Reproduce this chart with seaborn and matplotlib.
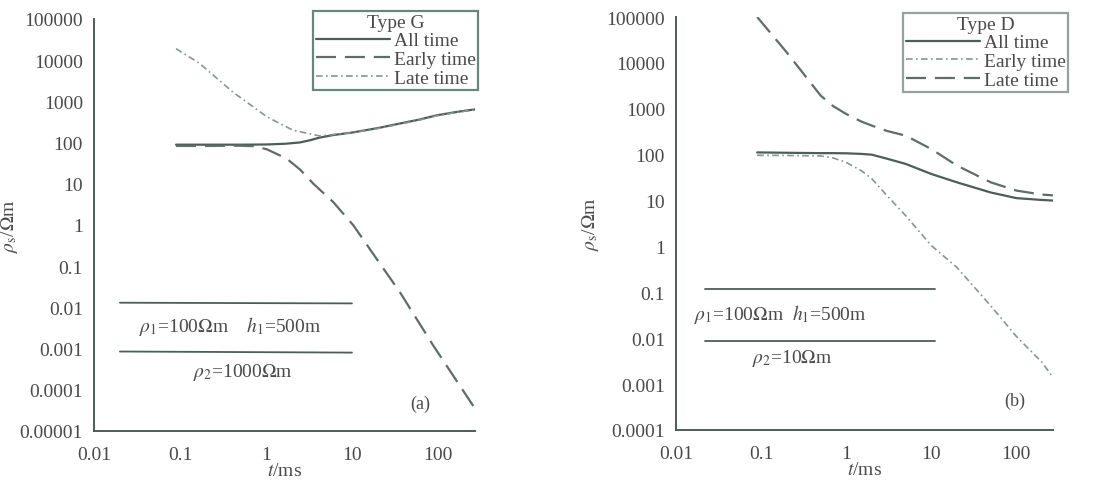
import numpy as np
import pandas as pd
import seaborn as sns
import matplotlib.pyplot as plt
from matplotlib.ticker import FixedLocator, FixedFormatter

# panel (a): Type G
t_a = [0.09, 0.2, 0.5, 1, 1.7, 2.5, 3.3, 4.2, 6, 10, 20, 36, 60, 97, 170, 270]
all_a = [89, 89, 89, 90, 94, 101, 115, 132, 152, 175, 225, 290, 360, 460, 560, 640]
t_a_early = [0.09, 0.2, 0.5, 0.71, 1.02, 1.74, 2.5, 3.55, 6.06, 10.4, 19.4, 36, 88, 270]
early_a = [83, 83, 84, 82, 69, 41, 22, 10.1, 3.6, 0.98, 0.15, 0.0237, 0.0012, 0.000035]
t_a_late = [0.09, 0.17, 0.41, 1.03, 2.06, 4.2, 10.3, 20, 36, 60, 97, 170, 270]
late_a = [19000, 8300, 1700, 420, 200, 145, 175, 220, 280, 350, 450, 550, 620]

# panel (b): Type D
t_b = [0.09, 0.2, 0.5, 0.7, 1, 1.5, 2, 3, 5, 10, 20, 50, 100, 200, 270]
all_b = [112, 110, 108, 108, 107, 104, 100, 82, 63, 38, 25, 15, 11.3, 10.3, 10]
early_b = [97, 96, 94, 85, 68, 45, 30, 13, 4.7, 1.05, 0.35, 0.051, 0.011, 0.003, 0.0014]
late_b = [100000, 17000, 1950, 1150, 770, 530, 430, 330, 260, 133, 58, 25, 16.5, 13.5, 13]

x_ticks = [0.01, 0.1, 1, 10, 100]
x_labels = ['0.01', '0.1', '1', '10', '100']
y_ticks_a = [1e-5, 1e-4, 1e-3, 1e-2, 1e-1, 1, 10, 100, 1000, 10000, 100000]
y_labels_a = ['0.00001', '0.0001', '0.001', '0.01', '0.1', '1', '10', '100', '1000', '10000', '100000']
y_ticks_b = y_ticks_a[1:]
y_labels_b = y_labels_a[1:]

sns.set_style('white')
plt.rcParams['font.family'] = ['Liberation Serif', 'DejaVu Serif']
plt.rcParams['mathtext.fontset'] = 'stix'

dark = '#4d5d5a'
mid = '#5f6d6a'
light = '#889592'
txt = '#4a4a4a'
frame = '#3e6a5a'

fig = plt.figure(figsize=(10.94, 4.81), dpi=100)
ax_a = fig.add_axes([94 / 1094, 1 - 432 / 481, 381 / 1094, 412 / 481])
ax_b = fig.add_axes([676 / 1094, 1 - 431 / 481, 377 / 1094, 413 / 481])


def style_axes(ax, yt, yl, ylim, ylab_x):
    ax.set_xscale('log')
    ax.set_yscale('log')
    ax.set_xlim(0.01, 270)
    ax.set_ylim(*ylim)
    ax.xaxis.set_major_locator(FixedLocator(x_ticks))
    ax.xaxis.set_major_formatter(FixedFormatter(x_labels))
    ax.yaxis.set_major_locator(FixedLocator(yt))
    ax.yaxis.set_major_formatter(FixedFormatter(yl))
    ax.minorticks_off()
    ax.tick_params(axis='x', direction='inout', length=8, width=1.2, colors=dark,
                   labelcolor=txt, labelsize=14, pad=7)
    ax.tick_params(axis='y', direction='out', length=6, width=1.2, colors=dark,
                   labelcolor=txt, labelsize=14, pad=2)
    for s in ['top', 'right']:
        ax.spines[s].set_visible(False)
    for s in ['left', 'bottom']:
        ax.spines[s].set_color(dark)
        ax.spines[s].set_linewidth(1.4)
    ax.set_xlabel(r'$t$/ms', fontsize=14, color=txt, labelpad=-1)
    ax.set_ylabel(r'$\rho_{\rm s}$/$\Omega$m', fontsize=14, color=txt)
    ax.yaxis.set_label_coords(ylab_x, 0.5)
    ax.patch.set_alpha(0)


def make_legend(ax, title, x0, y0, edge):
    leg = ax.legend(title=title, loc='upper left', bbox_to_anchor=(x0 / 1094, 1 - y0 / 481),
                    bbox_transform=fig.transFigure, fontsize=14, title_fontsize=14,
                    frameon=True, fancybox=False, handlelength=3.8, handletextpad=0.2,
                    labelspacing=0.05, borderpad=0.15, borderaxespad=0)
    leg.get_frame().set_edgecolor(edge)
    leg.get_frame().set_linewidth(1.6)
    leg.get_title().set_color(txt)
    for tx in leg.get_texts():
        tx.set_color(txt)
    return leg


# --- panel a ---
sns.lineplot(x=t_a, y=all_a, ax=ax_a, color=dark, lw=1.6, label='All time')
sns.lineplot(x=t_a_early, y=early_a, ax=ax_a, color=mid, lw=1.6,
             label='Early time').lines[-1].set_dashes([9, 4])
sns.lineplot(x=t_a_late, y=late_a, ax=ax_a, color=light, lw=1.2,
             label='Late time').lines[-1].set_dashes([4, 2, 1, 2])
style_axes(ax_a, y_ticks_a, y_labels_a, (1e-5, 1e5), -0.195)

ax_a.plot([0.02, 10], [0.013, 0.0125], color=dark, lw=1.3)
ax_a.plot([0.02, 10], [0.00085, 0.0008], color=dark, lw=1.3)
ax_a.text(0.38, 0.0036, r'$\rho_1$=100$\Omega$m    $h_1$=500m', ha='center', va='center',
          fontsize=14, color=txt)
ax_a.text(0.54, 0.00028, r'$\rho_2$=1000$\Omega$m', ha='center', va='center',
          fontsize=14, color=txt)
ax_a.text(63, 4.7e-5, '(a)', ha='center', va='center', fontsize=13, color=txt)
make_legend(ax_a, 'Type G', 313, 12, frame)

# --- panel b ---
sns.lineplot(x=t_b, y=all_b, ax=ax_b, color=dark, lw=1.6, label='All time')
sns.lineplot(x=t_b, y=early_b, ax=ax_b, color=light, lw=1.2,
             label='Early time').lines[-1].set_dashes([4, 2, 1, 2])
sns.lineplot(x=t_b, y=late_b, ax=ax_b, color=mid, lw=1.6,
             label='Late time').lines[-1].set_dashes([9, 4])
style_axes(ax_b, y_ticks_b, y_labels_b, (1e-4, 1e5), -0.2)

ax_b.plot([0.022, 11], [0.12, 0.12], color=dark, lw=1.3)
ax_b.plot([0.022, 11], [0.0088, 0.0088], color=dark, lw=1.3)
ax_b.text(0.17, 0.034, r'$\rho_1$=100$\Omega$m  $h_1$=500m', ha='center', va='center',
          fontsize=14, color=txt)
ax_b.text(0.23, 0.0038, r'$\rho_2$=10$\Omega$m', ha='center', va='center',
          fontsize=14, color=txt)
ax_b.text(96, 0.00044, '(b)', ha='center', va='center', fontsize=13, color=txt)
make_legend(ax_b, 'Type D', 903, 14, '#7d8a87')

fig.savefig('out.png', dpi=100, facecolor='white')
